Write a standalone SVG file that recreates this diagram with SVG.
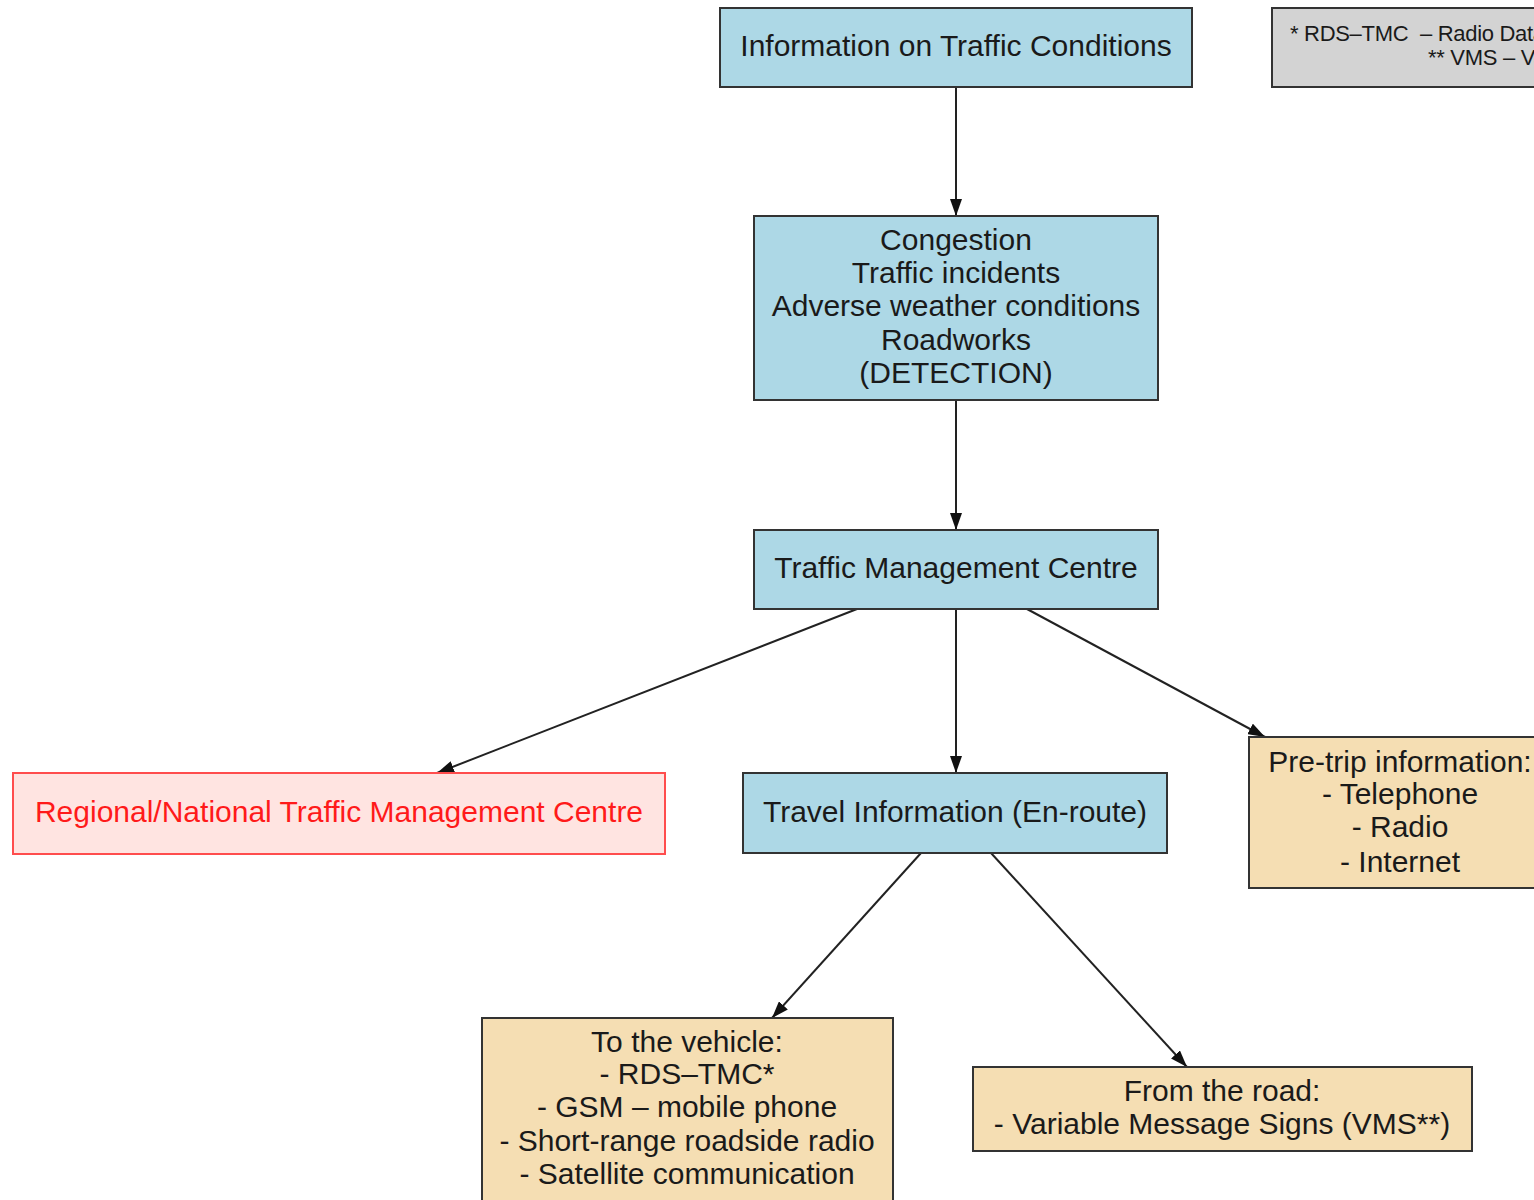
<svg xmlns="http://www.w3.org/2000/svg" width="1534" height="1200" viewBox="0 0 1534 1200">
  <defs>
    <marker id="arrow" markerUnits="userSpaceOnUse" markerWidth="17" markerHeight="12" refX="17" refY="6" orient="auto">
      <path d="M0,0 L17,6 L0,12 z" fill="#111"/>
    </marker>
  </defs>
  <style>
    .box { stroke: #333; stroke-width: 2; }
    .blue { fill: #add8e6; }
    .wheat { fill: #f5deb3; }
    .gray { fill: #d3d3d3; }
    .red { fill: #ffe4e1; stroke: #ff4d4d; }
    text { font-family: "Liberation Sans", Arial, sans-serif; font-size: 30px; fill: #1a1a1a; text-anchor: middle; }
    .redtext { fill: #ff1a1a; }
    .legend { font-size: 22px; text-anchor: start; letter-spacing: -0.3px; }
    .edge { stroke: #222; stroke-width: 2; fill: none; marker-end: url(#arrow); }
  </style>
  <rect width="1534" height="1200" fill="#ffffff"/>

  <g id="edges">
    <line class="edge" x1="956" y1="87" x2="956" y2="216"/>
    <line class="edge" x1="956" y1="400" x2="956" y2="530"/>
    <line class="edge" x1="857" y1="609" x2="437" y2="773"/>
    <line class="edge" x1="956" y1="609" x2="956" y2="773"/>
    <line class="edge" x1="1027" y1="609" x2="1265" y2="737"/>
    <line class="edge" x1="921" y1="853" x2="772" y2="1018"/>
    <line class="edge" x1="991" y1="853" x2="1187" y2="1067"/>
  </g>

  <g id="legend">
    <rect class="box gray" x="1272" y="8" width="300" height="79"/>
    <text class="legend" x="1290" y="41" xml:space="preserve">* RDS–TMC  – Radio Data System – Traffic Message Channel</text>
    <text class="legend" x="1428" y="65">** VMS – Variable Message Signs</text>
  </g>

  <g id="info">
    <rect class="box blue" x="720" y="8" width="472" height="79"/>
    <text x="956" y="56">Information on Traffic Conditions</text>
  </g>

  <g id="detection">
    <rect class="box blue" x="754" y="216" width="404" height="184"/>
    <text x="956" y="250">Congestion</text>
    <text x="956" y="283">Traffic incidents</text>
    <text x="956" y="316">Adverse weather conditions</text>
    <text x="956" y="350">Roadworks</text>
    <text x="956" y="383">(DETECTION)</text>
  </g>

  <g id="tmc">
    <rect class="box blue" x="754" y="530" width="404" height="79"/>
    <text x="956" y="578">Traffic Management Centre</text>
  </g>

  <g id="regional">
    <rect class="box red" x="13" y="773" width="652" height="81"/>
    <text class="redtext" x="339" y="822">Regional/National Traffic Management Centre</text>
  </g>

  <g id="enroute">
    <rect class="box blue" x="743" y="773" width="424" height="80"/>
    <text x="955" y="822">Travel Information (En-route)</text>
  </g>

  <g id="pretrip">
    <rect class="box wheat" x="1249" y="737" width="310" height="151"/>
    <text x="1400" y="772">Pre-trip information:</text>
    <text x="1400" y="804">- Telephone</text>
    <text x="1400" y="837">- Radio</text>
    <text x="1400" y="872">- Internet</text>
  </g>

  <g id="vehicle">
    <rect class="box wheat" x="482" y="1018" width="411" height="195"/>
    <text x="687" y="1052">To the vehicle:</text>
    <text x="687" y="1084">- RDS–TMC*</text>
    <text x="687" y="1117">- GSM – mobile phone</text>
    <text x="687" y="1151">- Short-range roadside radio</text>
    <text x="687" y="1184">- Satellite communication</text>
  </g>

  <g id="road">
    <rect class="box wheat" x="973" y="1067" width="499" height="84"/>
    <text x="1222" y="1101">From the road:</text>
    <text x="1222" y="1134">- Variable Message Signs (VMS**)</text>
  </g>
</svg>
